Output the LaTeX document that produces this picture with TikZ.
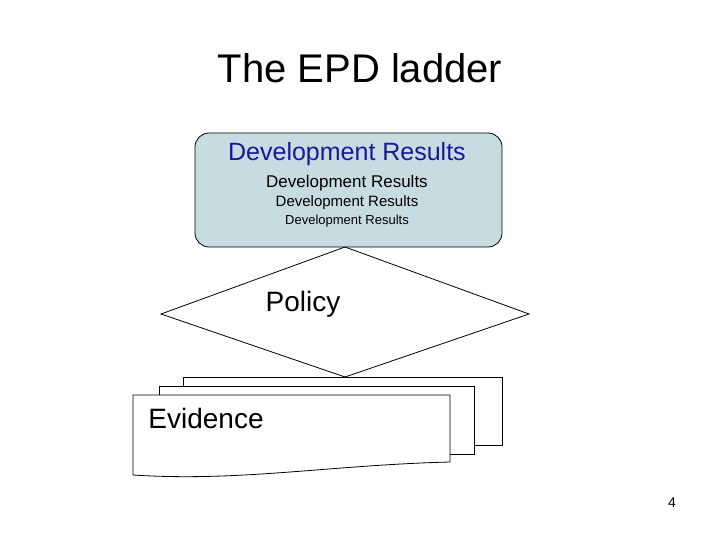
\documentclass[tikz,border=0pt]{standalone}
\usepackage{fontspec}
\setmainfont{Liberation Sans}
\begin{document}
\begin{tikzpicture}[x=1pt,y=-1pt,
  pg/.style={draw=black,fill=white,line width=0.8pt},
  txt/.style={inner sep=0pt,anchor=center}]
\useasboundingbox (0,0) rectangle (720,540);
% title
\node[txt,font=\fontsize{40}{44}\selectfont] (title) at (360,68) {The EPD ladder};
% results box
\node[draw=black,fill=cyan!5!teal!25!white,rounded corners=14pt,line width=0.8pt,
  minimum width=307pt,minimum height=114pt,inner sep=0pt] (res) at (348.5,190) {};
\fill[white] (0,0) rectangle (0,0);
\node[txt,font=\fontsize{25}{28}\selectfont,text=blue!55!black!90!white] (r1) at (347,154) {Development Results};
\node[txt,font=\fontsize{17}{20}\selectfont] (r2) at (347,183) {Development Results};
\node[txt,font=\fontsize{15}{18}\selectfont] (r3) at (347,203) {Development Results};
\node[txt,font=\fontsize{13}{16}\selectfont] (r4) at (347,221) {Development Results};
% diamond
\coordinate (dt) at (345,247);
\coordinate (dr) at (529,314);
\coordinate (db) at (345,377);
\coordinate (dl) at (161,314);
\draw[line width=0.8pt] (dt) -- (dr) -- (db) -- (dl) -- cycle;
\node[txt,font=\fontsize{28}{32}\selectfont] (pol) at (303,304) {Policy};
% evidence pages
\draw[pg] (183,386) -- (183,377) -- (502,377) -- (502,445) -- (474,445);
\draw[pg] (159,395) -- (159,386) -- (474,386) -- (474,454) -- (450,454);
\draw[pg] (133,395) -- (450,395) -- (450,462)
  .. controls (330,465) and (240,482) .. (133,475) -- cycle;
\node[txt,font=\fontsize{28}{32}\selectfont] (ev) at (206,418) {Evidence};
\node[txt,font=\fontsize{14}{16}\selectfont] (num) at (672,503) {4};
\end{tikzpicture}
\end{document}
